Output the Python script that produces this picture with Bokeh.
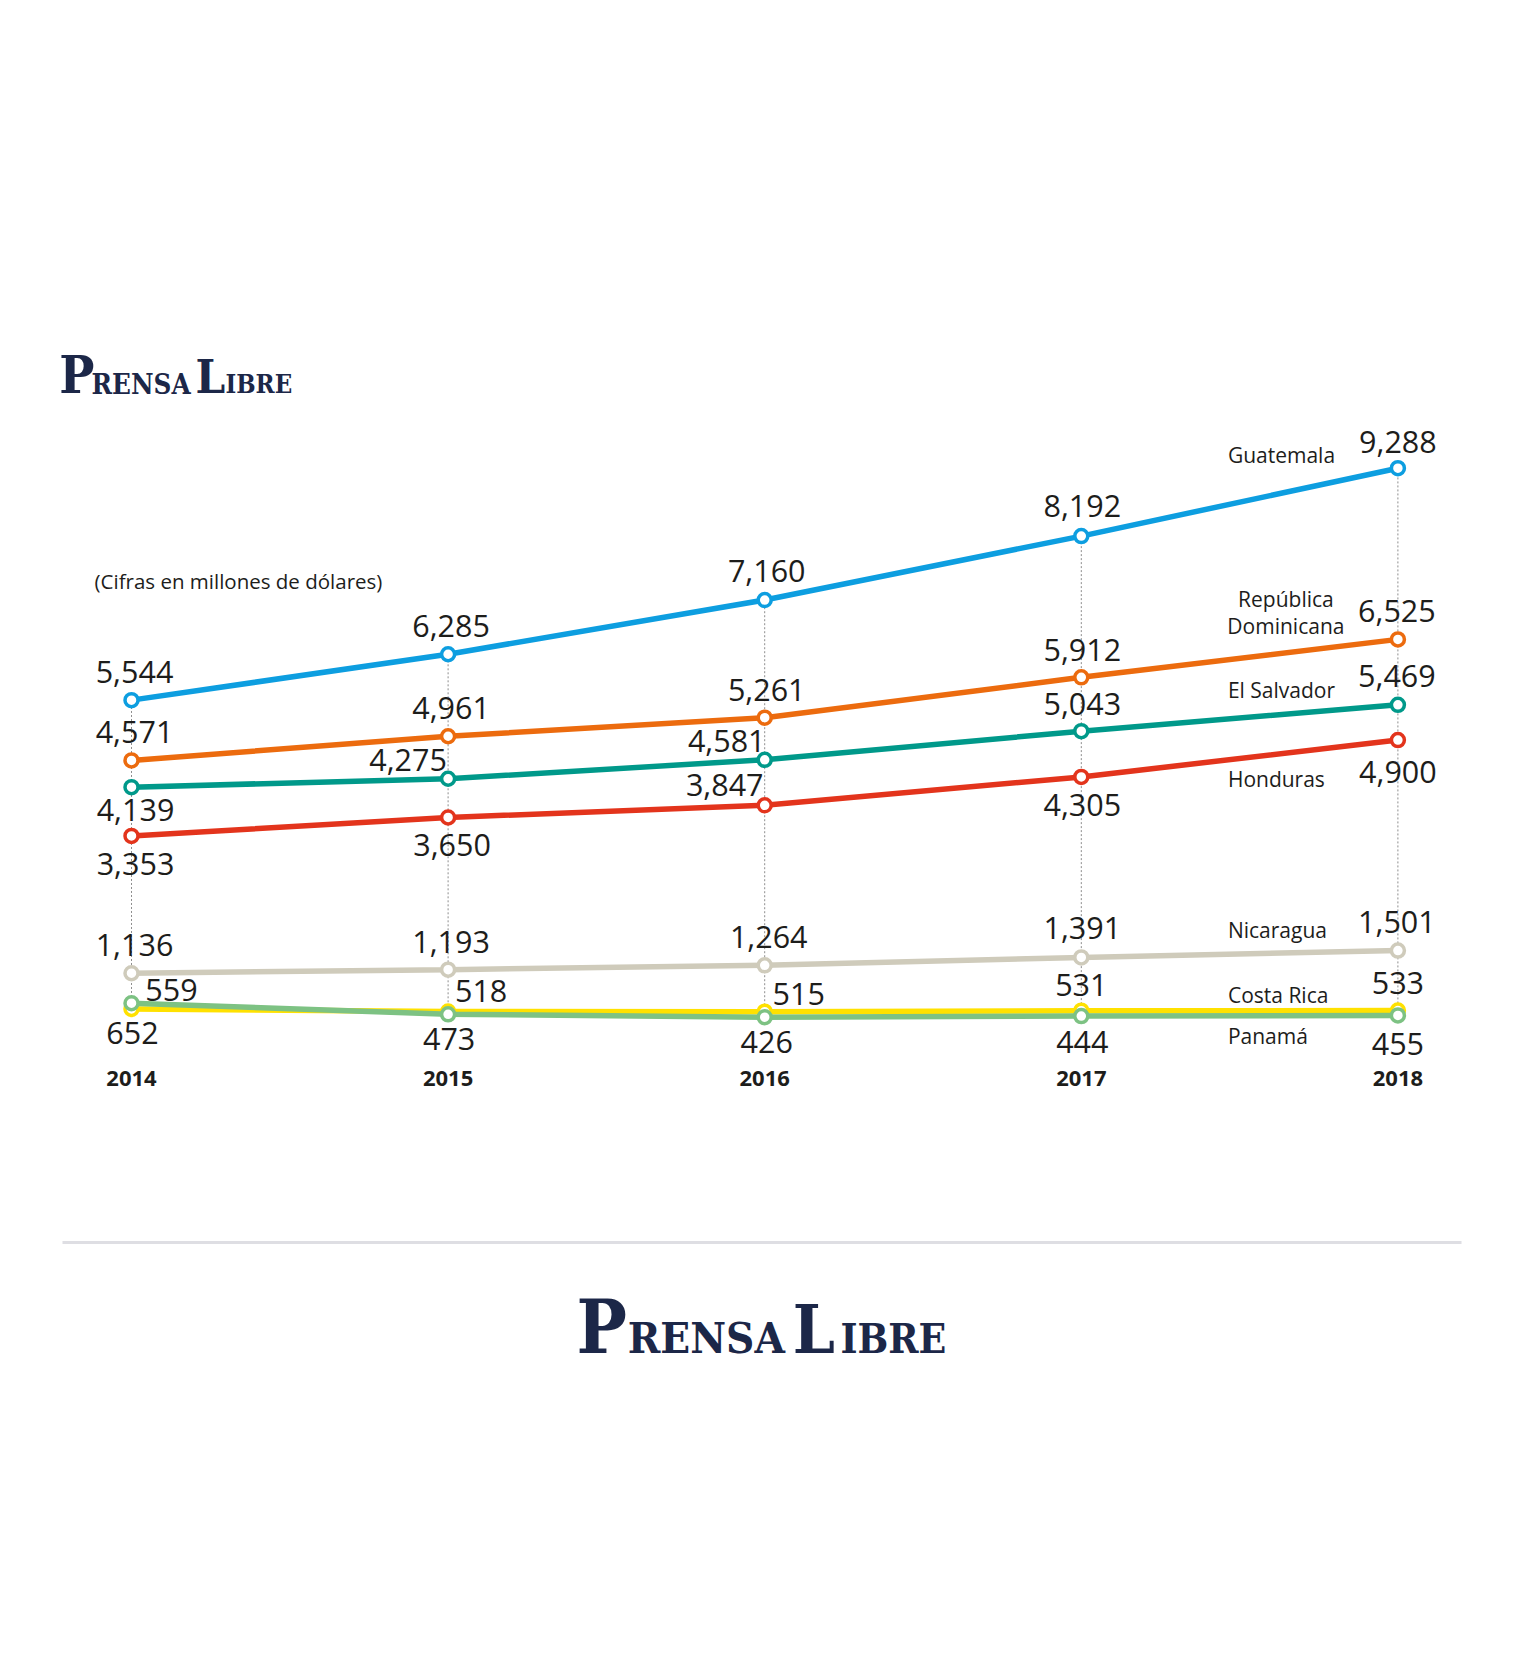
from bokeh.plotting import figure
from bokeh.models import Range1d
from bokeh.core.properties import value
from bokeh.embed import file_html
from bokeh.resources import INLINE

# ---------------- data ----------------
years = [2014, 2015, 2016, 2017, 2018]
year_labels = ["2014", "2015", "2016", "2017", "2018"]
countries = ["Guatemala", "República Dominicana", "El Salvador", "Honduras",
             "Nicaragua", "Costa Rica", "Panamá"]
guatemala = [5544, 6285, 7160, 8192, 9288]
rep_dominicana = [4571, 4961, 5261, 5912, 6525]
el_salvador = [4139, 4275, 4581, 5043, 5469]
honduras = [3353, 3650, 3847, 4305, 4900]
nicaragua = [1136, 1193, 1264, 1391, 1501]
costa_rica = [559, 518, 515, 531, 533]
panama = [652, 473, 426, 444, 455]
series = [guatemala, rep_dominicana, el_salvador, honduras, nicaragua, costa_rica, panama]
subtitle = "(Cifras en millones de dólares)"

# ---------------- styles ----------------
colors = ["#0d9ee0", "#ec6b0e", "#00998a", "#e3341c", "#cfcbbb", "#ffe100", "#7dc283"]
TEXT = "#1d1d1b"
NAVY = "#1c2748"
FONT = "Open Sans"

# value-label offsets (px) from each point to the label centre
label_dx = [
    [3, 3, 2, 1, 0],
    [3, 3, 2, 1, -1],
    [4, -40, -38, 1, -1],
    [4, 4, -40, 1, 0],
    [3, 3, 4, 1, -1],
    [40, 33, 34, 0, 0],
    [1, 1, 2, 1, 0],
]
label_dy = [
    [-28, -28, -29, -30, -26],
    [-28, -28, -28, -27, -28],
    [23, -19, -19, -27, -29],
    [28, 28, -20, 28, 32],
    [-28, -28, -28, -29, -29],
    [-19, -21, -18, -26, -28],
    [30, 25, 25, 26, 29],
]
# country-name offsets (px) from the last point (label centre); per line
name_lines = [["Guatemala"], ["República", "Dominicana"], ["El Salvador"], ["Honduras"],
              ["Nicaragua"], ["Costa Rica"], ["Panamá"]]
name_dx = [-170, -112, -170, -170, -170, -170, -170]
name_align = ["left", "center", "left", "left", "left", "left", "left"]
name_dy = [[-13.5], [-40, -13.5], [-15], [39], [-20.6], [-16], [21]]

# ---------------- geometry ----------------
W, H = 1504, 1660
PX_PER_YEAR = 316.6
FIRST_X_PX = 131.0          # canvas px of first year
PX_PER_UNIT = 0.06195
ZERO_Y_PX = 1043.1          # canvas px (from top) of value 0
x_start = years[0] - FIRST_X_PX / PX_PER_YEAR
x_end = x_start + W / PX_PER_YEAR
y_end = ZERO_Y_PX / PX_PER_UNIT
y_start = (ZERO_Y_PX - H) / PX_PER_UNIT


def fx(px):
    return x_start + px / PX_PER_YEAR


def fy(py):
    return (ZERO_Y_PX - py) / PX_PER_UNIT


p = figure(width=W, height=H, x_range=Range1d(x_start, x_end), y_range=Range1d(y_start, y_end),
           toolbar_location=None, output_backend="svg", min_border=0,
           x_axis_location=None, y_axis_location=None, outline_line_color=None)
p.grid.visible = False
p.background_fill_color = "white"
p.border_fill_color = "white"

# dotted guides from each year's max to min
col_max = [max(s[i] for s in series) for i in range(len(years))]
col_min = [min(s[i] for s in series) for i in range(len(years))]
p.segment(x0=years, y0=col_min, x1=years, y1=col_max, line_color="#8e8e8e",
          line_width=1, line_dash="2 2")

for s, c in zip(series, colors):
    p.line(years, s, line_color=c, line_width=5.5)
    p.scatter(years, s, size=13, fill_color="white", line_color=c, line_width=3.5)

# value labels
for s, dx, dy in zip(series, label_dx, label_dy):
    p.text(x=years, y=s, text=[f"{v:,}" for v in s], x_offset=dx, y_offset=dy,
           text_align="center", text_baseline="middle",
           text_font=value(FONT), text_font_size="30.5px", text_color=TEXT)

# country names
for s, lines, dx, al, dys in zip(series, name_lines, name_dx, name_align, name_dy):
    n = len(lines)
    p.text(x=[years[-1]] * n, y=[s[-1]] * n, text=lines, x_offset=dx, y_offset=dys,
           text_align=al, text_baseline="middle",
           text_font=value(FONT), text_font_size="21px", text_color=TEXT)

# year labels
p.text(x=years, y=[0] * len(years), text=year_labels, y_offset=35, text_align="center",
       text_baseline="middle", text_font=value(FONT), text_font_style="bold",
       text_font_size="22px", text_color=TEXT)

# subtitle
p.text(x=[fx(94)], y=[fy(580.5)], text=[subtitle], text_align="left", text_baseline="middle",
       text_font=value(FONT), text_font_size="20.5px", text_color=TEXT)

# separator
p.segment(x0=[fx(62)], y0=[fy(1242)], x1=[fx(1461)], y1=[fy(1242)],
          line_color="#dedee3", line_width=3)


# logos (text approximations of the masthead)
def logo(left, baseline, scale, big):
    pieces = [("P", 0.0, big), ("RENSA", 32.3, 27.5), ("L", 136.3, big - 5), ("IBRE", 166.3, 25.5)]
    for t, off, size in pieces:
        sz = size * scale
        p.text(x=[fx(left + off * scale)], y=[fy(baseline - 0.36 * sz)], text=[t],
               text_align="left", text_baseline="middle",
               text_font=value("DejaVu Serif Condensed"), text_font_style="bold",
               text_font_size=f"{sz:.1f}px", text_color=NAVY)


logo(58.7, 393, 1.0, 52)
logo(576, 1353, 1.587, 47)

open("out.html", "w").write(file_html(p, INLINE))
